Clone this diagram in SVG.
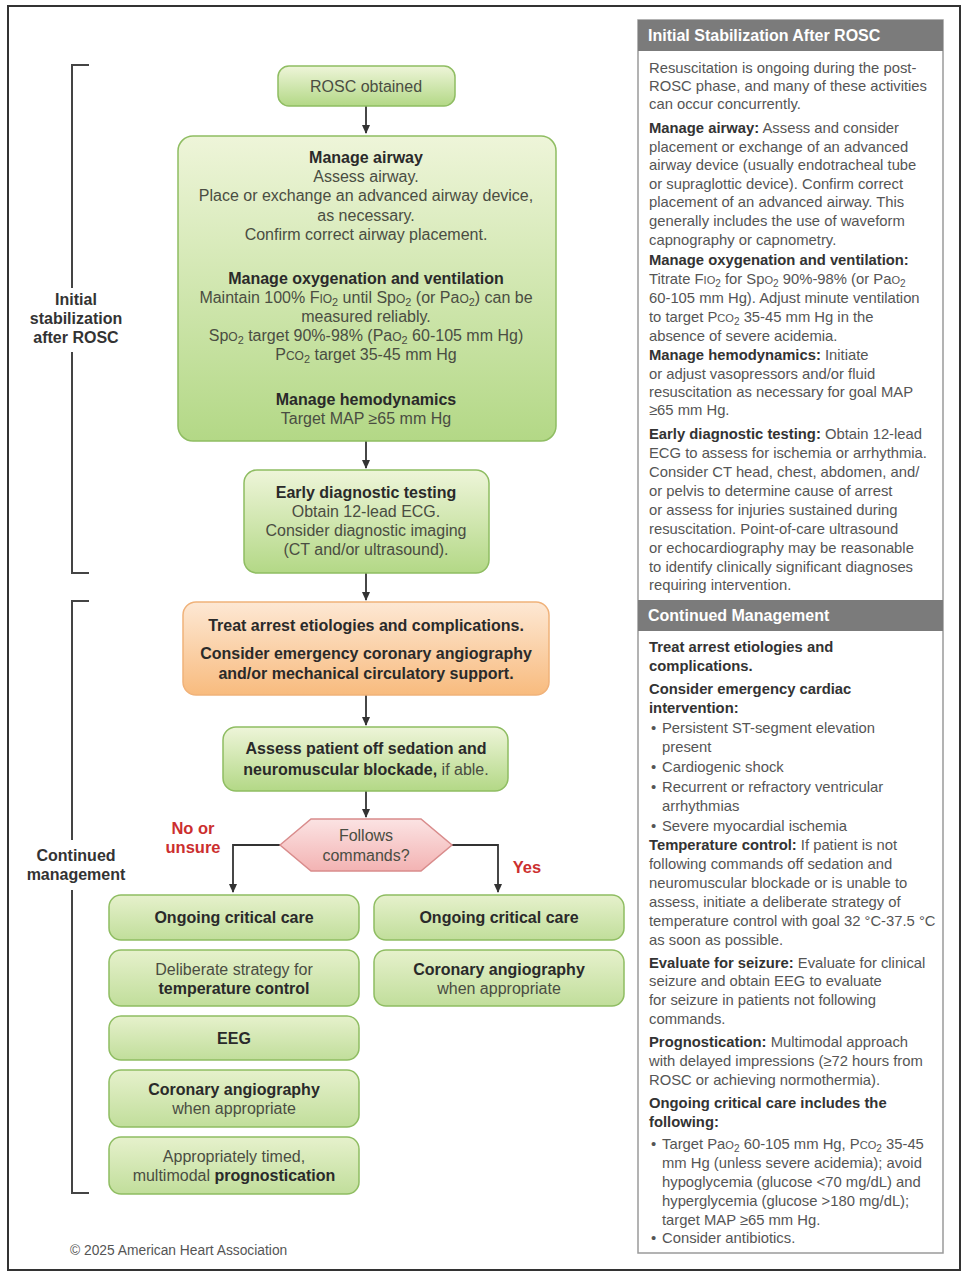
<svg xmlns="http://www.w3.org/2000/svg" width="967" height="1280" viewBox="0 0 967 1280">
<style>
text{font-family:"Liberation Sans",Arial,sans-serif;}
.c{text-anchor:middle;}
.f15{font-size:16px;}
.b{font-weight:bold;fill:#2a2a2a;}
.r{fill:#4a4d42;}
.red{font-weight:bold;fill:#cc2f2f;font-size:16.5px;}
.lbl{font-weight:bold;fill:#333;font-size:16px;text-anchor:middle;}
.gb{stroke:#8fbd62;stroke-width:1.5;fill:url(#gg);}
.gs{stroke:#8fbd62;stroke-width:1.5;fill:url(#gs);}
.ob{stroke:#f0b27a;stroke-width:1.5;fill:url(#go);}
.pk{stroke:#d98c8c;stroke-width:1.5;fill:url(#gp);}
.ln{stroke:#333;stroke-width:1.8;fill:none;}
.br{stroke:#444;stroke-width:2;fill:none;}
.p{font-size:14.8px;fill:#555;}
.pb{font-weight:bold;fill:#333;}
.hd{font-size:16px;font-weight:bold;fill:#fff;}
.sc{font-size:0.75em;}
.sb{font-size:0.68em;}
</style>
<defs>
<linearGradient id="gg" x1="0" y1="0" x2="0" y2="1"><stop offset="0" stop-color="#eef5d9"/><stop offset="1" stop-color="#b3d886"/></linearGradient>
<linearGradient id="gs" x1="0" y1="0" x2="0" y2="1"><stop offset="0" stop-color="#e6f1cc"/><stop offset="1" stop-color="#c1de9b"/></linearGradient>
<linearGradient id="go" x1="0" y1="0" x2="0" y2="1"><stop offset="0" stop-color="#fde8d4"/><stop offset="1" stop-color="#f8bb7e"/></linearGradient>
<linearGradient id="gp" x1="0" y1="0" x2="0" y2="1"><stop offset="0" stop-color="#fbe3e3"/><stop offset="1" stop-color="#f3b3b3"/></linearGradient>
<marker id="ar" markerWidth="10" markerHeight="10" refX="8" refY="5" orient="auto" markerUnits="userSpaceOnUse"><path d="M0,1 L9,5 L0,9 Z" fill="#333"/></marker>
</defs>
<rect width="967" height="1280" fill="#fff"/>
<rect x="8" y="6" width="952" height="1264" fill="none" stroke="#333" stroke-width="2"/>

<g id="bracket-initial">
<path class="br" d="M89,65 H72 V288 M72,352 V573 H89"/>
<text class="lbl" x="76" y="305">Initial</text>
<text class="lbl" x="76" y="324">stabilization</text>
<text class="lbl" x="76" y="343">after ROSC</text>
</g>
<g id="bracket-continued">
<path class="br" d="M89,601 H72 V840 M72,890 V1193 H89"/>
<text class="lbl" x="76" y="861">Continued</text>
<text class="lbl" x="76" y="880">management</text>
</g>

<g id="connectors">
<line class="ln" x1="366" y1="106" x2="366" y2="133" marker-end="url(#ar)"/>
<line class="ln" x1="366" y1="243" x2="366" y2="266" marker-end="url(#ar)"/>
<line class="ln" x1="366" y1="364" x2="366" y2="388" marker-end="url(#ar)"/>
<line class="ln" x1="366" y1="441" x2="366" y2="468" marker-end="url(#ar)"/>
<line class="ln" x1="366" y1="573" x2="366" y2="600" marker-end="url(#ar)"/>
<line class="ln" x1="366" y1="695" x2="366" y2="725" marker-end="url(#ar)"/>
<line class="ln" x1="366" y1="791" x2="366" y2="817" marker-end="url(#ar)"/>
<path class="ln" d="M280,845 H233 V892" marker-end="url(#ar)"/>
<path class="ln" d="M452,845 H498 V892" marker-end="url(#ar)"/>
<text class="red c" x="193" y="834">No or</text>
<text class="red c" x="193" y="853">unsure</text>
<text class="red c" x="527" y="873">Yes</text>
</g>

<g id="rosc">
<rect class="gb" x="278" y="66" width="177" height="40" rx="11"/>
<text class="c f15 r" x="366" y="92">ROSC obtained</text>
</g>

<g id="initial-stabilization">
<rect class="gb" x="178" y="136" width="378" height="305" rx="15"/>
<text class="c f15 b" x="366" y="163">Manage airway</text>
<text class="c f15 r" x="366" y="182">Assess airway.</text>
<text class="c f15 r" x="366" y="201">Place or exchange an advanced airway device,</text>
<text class="c f15 r" x="366" y="221">as necessary.</text>
<text class="c f15 r" x="366" y="240">Confirm correct airway placement.</text>
<text class="c f15 b" x="366" y="284">Manage oxygenation and ventilation</text>
<text class="c f15 r" x="366" y="303">Maintain 100% F<tspan class="sc">IO</tspan><tspan class="sb" dy="3">2</tspan><tspan dy="-3"> until Sp</tspan><tspan class="sc">O</tspan><tspan class="sb" dy="3">2</tspan><tspan dy="-3"> (or Pa</tspan><tspan class="sc">O</tspan><tspan class="sb" dy="3">2</tspan><tspan dy="-3">) can be</tspan></text>
<text class="c f15 r" x="366" y="322">measured reliably.</text>
<text class="c f15 r" x="366" y="341">Sp<tspan class="sc">O</tspan><tspan class="sb" dy="3">2</tspan><tspan dy="-3"> target 90%-98% (Pa</tspan><tspan class="sc">O</tspan><tspan class="sb" dy="3">2</tspan><tspan dy="-3"> 60-105 mm Hg)</tspan></text>
<text class="c f15 r" x="366" y="360">P<tspan class="sc">CO</tspan><tspan class="sb" dy="3">2</tspan><tspan dy="-3"> target 35-45 mm Hg</tspan></text>
<text class="c f15 b" x="366" y="405">Manage hemodynamics</text>
<text class="c f15 r" x="366" y="424">Target MAP ≥65 mm Hg</text>
</g>

<g id="early-diagnostic">
<rect class="gb" x="244" y="470" width="245" height="103" rx="13"/>
<text class="c f15 b" x="366" y="498">Early diagnostic testing</text>
<text class="c f15 r" x="366" y="517">Obtain 12-lead ECG.</text>
<text class="c f15 r" x="366" y="536">Consider diagnostic imaging</text>
<text class="c f15 r" x="366" y="555">(CT and/or ultrasound).</text>
</g>

<g id="treat-etiologies">
<rect class="ob" x="183" y="602" width="366" height="93" rx="13"/>
<text class="c f15 b" x="366" y="631">Treat arrest etiologies and complications.</text>
<text class="c f15 b" x="366" y="659">Consider emergency coronary angiography</text>
<text class="c f15 b" x="366" y="679">and/or mechanical circulatory support.</text>
</g>

<g id="assess-patient">
<rect class="gb" x="223" y="727" width="285" height="64" rx="13"/>
<text class="c f15 b" x="366" y="754">Assess patient off sedation and</text>
<text class="c f15 b" x="366" y="775">neuromuscular blockade,<tspan class="r" font-weight="normal"> if able.</tspan></text>
</g>

<g id="follows-commands">
<polygon class="pk" points="280,845 311,819 421,819 452,845 421,871 311,871"/>
<text class="c f15 r" x="366" y="841">Follows</text>
<text class="c f15 r" x="366" y="861">commands?</text>
</g>

<g id="no-ongoing-care">
<rect class="gs" x="109" y="895" width="250" height="45" rx="12"/>
<text class="c f15 b" x="234" y="923">Ongoing critical care</text>
</g>
<g id="no-temperature">
<rect class="gs" x="109" y="950" width="250" height="56" rx="12"/>
<text class="c f15 r" x="234" y="975">Deliberate strategy for</text>
<text class="c f15 b" x="234" y="994">temperature control</text>
</g>
<g id="no-eeg">
<rect class="gs" x="109" y="1016" width="250" height="44" rx="12"/>
<text class="c f15 b" x="234" y="1044">EEG</text>
</g>
<g id="no-coronary">
<rect class="gs" x="109" y="1070" width="250" height="57" rx="12"/>
<text class="c f15 b" x="234" y="1095">Coronary angiography</text>
<text class="c f15 r" x="234" y="1114">when appropriate</text>
</g>
<g id="no-prognostication">
<rect class="gs" x="109" y="1137" width="250" height="57" rx="12"/>
<text class="c f15 r" x="234" y="1162">Appropriately timed,</text>
<text class="c f15 r" x="234" y="1181">multimodal <tspan class="b">prognostication</tspan></text>
</g>
<g id="yes-ongoing-care">
<rect class="gs" x="374" y="895" width="250" height="45" rx="12"/>
<text class="c f15 b" x="499" y="923">Ongoing critical care</text>
</g>
<g id="yes-coronary">
<rect class="gs" x="374" y="950" width="250" height="56" rx="12"/>
<text class="c f15 b" x="499" y="975">Coronary angiography</text>
<text class="c f15 r" x="499" y="994">when appropriate</text>
</g>

<text x="70" y="1255" font-size="13.8" fill="#555">© 2025 American Heart Association</text>

<g id="side-panel">
<rect x="638" y="20" width="305" height="1233" fill="#fff" stroke="#9a9a9a" stroke-width="1.5"/>
<rect x="638" y="20" width="305" height="31" fill="#7b7b7b"/>
<text class="hd" x="648" y="41">Initial Stabilization After ROSC</text>
<text class="p" x="649" y="73">Resuscitation is ongoing during the post-</text>
<text class="p" x="649" y="91">ROSC phase, and many of these activities</text>
<text class="p" x="649" y="109">can occur concurrently.</text>
<text class="p" x="649" y="133"><tspan class="pb">Manage airway:</tspan> Assess and consider</text>
<text class="p" x="649" y="152">placement or exchange of an advanced</text>
<text class="p" x="649" y="170">airway device (usually endotracheal tube</text>
<text class="p" x="649" y="189">or supraglottic device). Confirm correct</text>
<text class="p" x="649" y="207">placement of an advanced airway. This</text>
<text class="p" x="649" y="226">generally includes the use of waveform</text>
<text class="p" x="649" y="245">capnography or capnometry.</text>
<text class="p pb" x="649" y="265">Manage oxygenation and ventilation:</text>
<text class="p" x="649" y="284">Titrate F<tspan class="sc">IO</tspan><tspan class="sb" dy="3">2</tspan><tspan dy="-3"> for Sp</tspan><tspan class="sc">O</tspan><tspan class="sb" dy="3">2</tspan><tspan dy="-3"> 90%-98% (or Pa</tspan><tspan class="sc">O</tspan><tspan class="sb" dy="3">2</tspan></text>
<text class="p" x="649" y="303">60-105 mm Hg). Adjust minute ventilation</text>
<text class="p" x="649" y="322">to target P<tspan class="sc">CO</tspan><tspan class="sb" dy="3">2</tspan><tspan dy="-3"> 35-45 mm Hg in the</tspan></text>
<text class="p" x="649" y="341">absence of severe acidemia.</text>
<text class="p" x="649" y="360"><tspan class="pb">Manage hemodynamics:</tspan> Initiate</text>
<text class="p" x="649" y="379">or adjust vasopressors and/or fluid</text>
<text class="p" x="649" y="397">resuscitation as necessary for goal MAP</text>
<text class="p" x="649" y="415">≥65 mm Hg.</text>
<text class="p" x="649" y="439"><tspan class="pb">Early diagnostic testing:</tspan> Obtain 12-lead</text>
<text class="p" x="649" y="458">ECG to assess for ischemia or arrhythmia.</text>
<text class="p" x="649" y="477">Consider CT head, chest, abdomen, and/</text>
<text class="p" x="649" y="496">or pelvis to determine cause of arrest</text>
<text class="p" x="649" y="515">or assess for injuries sustained during</text>
<text class="p" x="649" y="534">resuscitation. Point-of-care ultrasound</text>
<text class="p" x="649" y="553">or echocardiography may be reasonable</text>
<text class="p" x="649" y="572">to identify clinically significant diagnoses</text>
<text class="p" x="649" y="590">requiring intervention.</text>
<rect x="638" y="600" width="305" height="31" fill="#7b7b7b"/>
<text class="hd" x="648" y="621">Continued Management</text>
<text class="p pb" x="649" y="652">Treat arrest etiologies and</text>
<text class="p pb" x="649" y="671">complications.</text>
<text class="p pb" x="649" y="694">Consider emergency cardiac</text>
<text class="p pb" x="649" y="713">intervention:</text>
<text class="p" x="651" y="733">•</text><text class="p" x="662" y="733">Persistent ST-segment elevation</text>
<text class="p" x="662" y="752">present</text>
<text class="p" x="651" y="772">•</text><text class="p" x="662" y="772">Cardiogenic shock</text>
<text class="p" x="651" y="792">•</text><text class="p" x="662" y="792">Recurrent or refractory ventricular</text>
<text class="p" x="662" y="811">arrhythmias</text>
<text class="p" x="651" y="831">•</text><text class="p" x="662" y="831">Severe myocardial ischemia</text>
<text class="p" x="649" y="850"><tspan class="pb">Temperature control:</tspan> If patient is not</text>
<text class="p" x="649" y="869">following commands off sedation and</text>
<text class="p" x="649" y="888">neuromuscular blockade or is unable to</text>
<text class="p" x="649" y="907">assess, initiate a deliberate strategy of</text>
<text class="p" x="649" y="926">temperature control with goal 32 °C-37.5 °C</text>
<text class="p" x="649" y="945">as soon as possible.</text>
<text class="p" x="649" y="968"><tspan class="pb">Evaluate for seizure:</tspan> Evaluate for clinical</text>
<text class="p" x="649" y="986">seizure and obtain EEG to evaluate</text>
<text class="p" x="649" y="1005">for seizure in patients not following</text>
<text class="p" x="649" y="1024">commands.</text>
<text class="p" x="649" y="1047"><tspan class="pb">Prognostication:</tspan> Multimodal approach</text>
<text class="p" x="649" y="1066">with delayed impressions (≥72 hours from</text>
<text class="p" x="649" y="1085">ROSC or achieving normothermia).</text>
<text class="p pb" x="649" y="1108">Ongoing critical care includes the</text>
<text class="p pb" x="649" y="1127">following:</text>
<text class="p" x="651" y="1149">•</text><text class="p" x="662" y="1149">Target Pa<tspan class="sc">O</tspan><tspan class="sb" dy="3">2</tspan><tspan dy="-3"> 60-105 mm Hg, P</tspan><tspan class="sc">CO</tspan><tspan class="sb" dy="3">2</tspan><tspan dy="-3"> 35-45</tspan></text>
<text class="p" x="662" y="1168">mm Hg (unless severe acidemia); avoid</text>
<text class="p" x="662" y="1187">hypoglycemia (glucose &lt;70 mg/dL) and</text>
<text class="p" x="662" y="1206">hyperglycemia (glucose &gt;180 mg/dL);</text>
<text class="p" x="662" y="1225">target MAP ≥65 mm Hg.</text>
<text class="p" x="651" y="1243">•</text><text class="p" x="662" y="1243">Consider antibiotics.</text>
</g>
</svg>
